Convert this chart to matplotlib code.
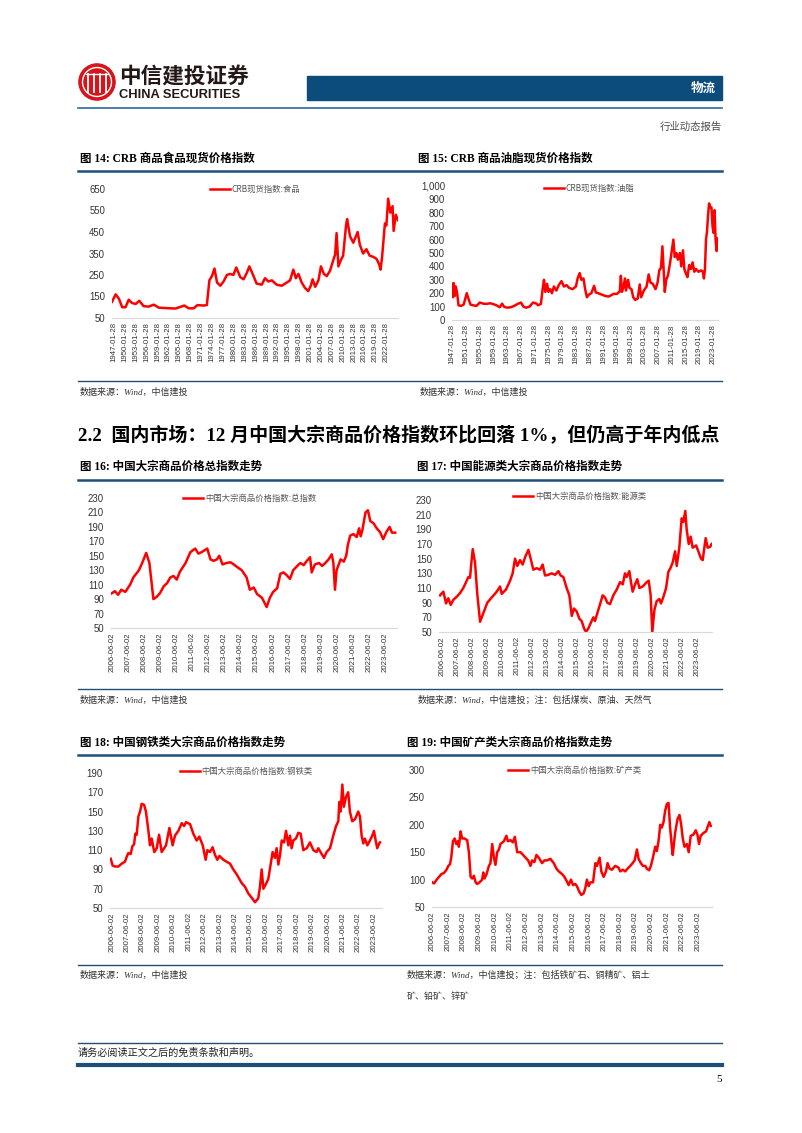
import matplotlib.pyplot as plt
from matplotlib.patches import Circle, Rectangle
from matplotlib.lines import Line2D
from matplotlib.ticker import FuncFormatter

W, H = 802, 1133
CJK = ['Noto Sans CJK SC', 'DejaVu Sans']
SERIF = ['Liberation Serif', 'Noto Sans CJK SC']
SANS = ['Liberation Sans', 'Noto Sans CJK SC']
RED = '#ff0000'
BLUE = '#1f4e79'

# ---- data ----
# CRB food spot index (years in axis position)
food_years = [1946.5, 1947.5, 1948.4, 1949.3, 1950.2, 1951.1, 1952.0, 1953.0, 1954.0, 1955.2,
              1956.6, 1958.0, 1959.4, 1961.6, 1964.0, 1966.4, 1967.6, 1969.0, 1970.0, 1971.7,
              1972.6, 1973.3, 1974.0, 1974.7, 1975.4, 1976.3, 1977.2, 1978.1, 1979.0, 1979.9,
              1980.7, 1981.8, 1982.7, 1983.6, 1984.3, 1985.2, 1986.3, 1987.7, 1988.6, 1989.5,
              1990.5, 1991.8, 1993.2, 1994.6, 1995.5, 1996.4, 1997.1, 1997.8, 1998.7, 1999.6,
              2000.5, 2001.2, 2001.7, 2002.4, 2003.3, 2004.0, 2004.8, 2005.6, 2006.5, 2007.4,
              2007.9, 2008.3, 2008.8, 2009.5, 2010.1, 2010.9, 2011.2, 2012.0, 2012.9, 2014.1,
              2014.7, 2015.6, 2016.5, 2017.4, 2018.3, 2019.3, 2020.0, 2020.4, 2020.8, 2021.6,
              2022.0, 2022.5, 2023.1, 2023.7, 2024.0, 2024.6, 2025.2]
food_vals = [125, 160, 140, 100, 100, 135, 120, 115, 130, 105,
             103, 112, 98, 96, 94, 108, 95, 95, 110, 108,
             110, 225, 245, 280, 215, 200, 220, 250, 255, 250,
             285, 240, 230, 260, 290, 255, 210, 205, 235, 220,
             225, 205, 200, 215, 225, 275, 235, 255, 215, 190,
             175, 200, 230, 195, 225, 290, 255, 245, 270, 320,
             345, 445, 290, 320, 340, 480, 510, 430, 400, 450,
             390, 350, 370, 340, 335, 325, 300, 275, 330, 490,
             480, 605, 540, 570, 455, 530, 505]

# CRB fats & oils spot index
oil_years = [1946.9, 1947.2, 1947.4, 1947.7, 1948.0, 1948.4, 1948.8, 1949.5, 1950.3, 1951.2,
             1951.8, 1952.3, 1953.0, 1954.0, 1955.0, 1956.0, 1957.0, 1958.0, 1959.0, 1960.0,
             1960.8, 1961.5, 1962.0, 1963.0, 1964.0, 1965.0, 1966.0, 1967.0, 1967.7, 1968.5,
             1969.5, 1970.5, 1971.3, 1972.0, 1972.8, 1973.3, 1973.7, 1974.1, 1974.6, 1975.0,
             1975.5, 1976.0, 1976.6, 1977.3, 1978.0, 1978.8, 1979.5, 1980.3, 1981.0, 1982.0,
             1983.0, 1983.5, 1984.1, 1984.6, 1985.2, 1985.7, 1986.2, 1986.8, 1987.5, 1988.3,
             1988.8, 1989.5, 1990.5, 1991.5, 1992.5, 1993.3, 1994.0, 1995.0, 1995.8, 1996.1,
             1996.4, 1996.8, 1997.3, 1997.6, 1998.2, 1998.6, 1999.2, 1999.7, 2000.3, 2001.0,
             2001.6, 2002.0, 2002.8, 2003.6, 2004.2, 2004.7, 2005.4, 2006.2, 2006.8, 2007.3,
             2007.8, 2008.2, 2008.6, 2008.9, 2009.3, 2009.8, 2010.4, 2011.0, 2011.4, 2011.8,
             2012.3, 2012.7, 2013.3, 2013.7, 2014.2, 2014.6, 2015.0, 2015.5, 2016.0, 2016.5,
             2017.0, 2017.5, 2018.0, 2018.7, 2019.5, 2020.0, 2020.3, 2020.6, 2020.9, 2021.2,
             2021.5, 2021.8, 2022.1, 2022.5, 2022.8, 2023.1, 2023.4, 2023.7, 2024.0, 2024.2,
             2024.4]
oil_vals = [270, 170, 275, 180, 250, 200, 110, 105, 115, 200,
            150, 115, 110, 105, 130, 122, 120, 125, 118, 108,
            95, 122, 100, 92, 95, 105, 120, 130, 100, 92,
            100, 130, 125, 110, 120, 230, 300, 210, 270, 210,
            230, 200, 250, 220, 260, 290, 250, 260, 240, 230,
            250, 310, 350, 300, 310, 230, 170, 190, 200, 255,
            205, 200, 190, 180, 175, 185, 195, 195, 215, 330,
            210, 240, 310, 220, 300, 240, 230, 170, 150, 160,
            265, 170, 220, 250, 340, 280, 270, 230, 280, 370,
            390, 550, 350, 210, 300, 330, 420, 530, 600, 470,
            500, 450, 500, 400, 520, 380, 350, 320, 410, 380,
            430, 360, 380, 360, 370, 360, 310, 380, 600, 660,
            780, 870, 840, 840, 700, 650, 820, 600, 515, 610,
            540]

# China commodity price index: total
tot_years = [2006.4, 2006.6, 2006.8, 2007.0, 2007.25, 2007.55, 2007.75, 2008.1, 2008.3, 2008.55,
             2008.75, 2009.0, 2009.2, 2009.4, 2009.65, 2009.85, 2010.05, 2010.25, 2010.45, 2010.65,
             2011.0, 2011.3, 2011.6, 2011.8, 2012.0, 2012.35, 2012.55, 2012.75, 2012.95, 2013.1,
             2013.3, 2013.55, 2013.8, 2014.0, 2014.3, 2014.5, 2014.8, 2015.0, 2015.25, 2015.45,
             2015.75, 2016.05, 2016.25, 2016.45, 2016.7, 2016.9, 2017.1, 2017.3, 2017.5, 2017.7,
             2018.0, 2018.15, 2018.35, 2018.55, 2018.75, 2018.85, 2019.05, 2019.3, 2019.5, 2019.7,
             2019.9, 2020.1, 2020.2, 2020.3, 2020.4, 2020.65, 2020.85, 2021.0, 2021.1, 2021.25,
             2021.45, 2021.65, 2021.8, 2021.9, 2022.0, 2022.2, 2022.35, 2022.5, 2022.7, 2022.9,
             2023.1, 2023.3, 2023.5, 2023.7, 2023.85, 2024.05]
tot_vals = [98, 101, 96, 103, 100, 110, 120, 130, 140, 154,
            140, 90, 93, 98, 108, 112, 120, 122, 117, 128,
            140, 155, 160, 153, 155, 160, 145, 143, 145, 150,
            138, 140, 141, 138, 133, 130, 120, 103, 106, 97,
            92, 79, 92, 100, 105, 125, 127, 123, 118, 130,
            137, 140, 137, 143, 148, 127, 138, 140, 136, 140,
            145, 152, 140, 103, 130, 145, 142, 150, 165, 178,
            180, 176, 188, 177, 185, 210, 213, 198, 195, 188,
            183, 173, 183, 190, 182, 182]

# energy
en_years = [2006.31, 2006.53, 2006.71, 2006.86, 2007.02, 2007.2, 2007.42, 2007.64, 2007.86, 2008.09,
            2008.2, 2008.31, 2008.4, 2008.49, 2008.64, 2008.8, 2008.98, 2009.2, 2009.46, 2009.75,
            2010.09, 2010.31, 2010.42, 2010.71, 2010.98, 2011.15, 2011.31, 2011.46, 2011.64, 2011.82,
            2011.98, 2012.2, 2012.35, 2012.53, 2012.75, 2012.98, 2013.15, 2013.31, 2013.53, 2013.75,
            2013.98, 2014.2, 2014.35, 2014.53, 2014.75, 2014.93, 2015.09, 2015.24, 2015.42, 2015.6,
            2015.75, 2015.91, 2016.04, 2016.2, 2016.35, 2016.53, 2016.64, 2016.86, 2016.98, 2017.15,
            2017.31, 2017.46, 2017.64, 2017.86, 2018.09, 2018.31, 2018.49, 2018.64, 2018.75, 2018.93,
            2019.04, 2019.15, 2019.31, 2019.46, 2019.6, 2019.82, 2020.04, 2020.22, 2020.35, 2020.46,
            2020.6, 2020.75, 2020.93, 2021.04, 2021.2, 2021.38, 2021.53, 2021.69, 2021.82, 2021.98,
            2022.09, 2022.26, 2022.42, 2022.53, 2022.66, 2022.75, 2022.89, 2023.02, 2023.15, 2023.38,
            2023.53, 2023.71, 2023.82, 2023.93, 2024.02, 2024.15, 2024.31, 2024.42]
en_vals = [100, 105, 89, 96, 87, 94, 98, 103, 110, 120,
           125, 124, 145, 163, 145, 100, 64, 76, 90, 97,
           105, 112, 102, 108, 120, 130, 150, 140, 148, 142,
           152, 162, 150, 135, 137, 135, 142, 127, 128, 130,
           128, 133, 127, 125, 110, 100, 72, 82, 78, 68,
           65, 55, 50, 55, 62, 70, 65, 80, 88, 100,
           97, 90, 88, 100, 108, 118, 115, 130, 125, 133,
           118, 105, 115, 122, 110, 112, 117, 120, 100, 50,
           80, 92, 95, 89, 98, 110, 132, 138, 145, 160,
           140, 165, 205, 200, 215, 190, 170, 180, 165, 168,
           160, 150, 148, 165, 178, 165, 166, 170]

# steel
st_years = [2006.36, 2006.48, 2006.64, 2006.85, 2007.07, 2007.28, 2007.39, 2007.5, 2007.65, 2007.76,
            2007.87, 2007.95, 2008.04, 2008.15, 2008.26, 2008.36, 2008.52, 2008.64, 2008.8, 2008.9,
            2009.01, 2009.18, 2009.34, 2009.49, 2009.66, 2009.94, 2010.16, 2010.37, 2010.52, 2010.74,
            2010.96, 2011.11, 2011.24, 2011.5, 2011.71, 2011.93, 2012.1, 2012.32, 2012.51, 2012.62,
            2012.79, 2012.96, 2013.12, 2013.27, 2013.4, 2013.66, 2013.87, 2014.09, 2014.3, 2014.52,
            2014.84, 2015.06, 2015.28, 2015.43, 2015.71, 2015.92, 2016.03, 2016.14, 2016.25, 2016.42,
            2016.57, 2016.72, 2016.85, 2017.0, 2017.11, 2017.22, 2017.33, 2017.44, 2017.59, 2017.72,
            2017.87, 2017.98, 2018.08, 2018.19, 2018.36, 2018.52, 2018.67, 2018.84, 2019.06, 2019.27,
            2019.49, 2019.7, 2019.81, 2020.03, 2020.18, 2020.35, 2020.57, 2020.67, 2020.78, 2020.96,
            2021.11, 2021.17, 2021.26, 2021.37, 2021.47, 2021.6, 2021.75, 2021.86, 2022.01, 2022.19,
            2022.4, 2022.51, 2022.62, 2022.73, 2022.83, 2022.99, 2023.16, 2023.31, 2023.42, 2023.53,
            2023.63, 2023.76, 2023.81]
st_vals = [101, 94, 93, 93, 96, 98, 103, 107, 106, 114,
           116, 127, 126, 145, 150, 158, 157, 150, 130, 115,
           122, 108, 112, 126, 108, 115, 133, 115, 125, 130,
           138, 135, 139, 137, 127, 120, 124, 115, 100, 110,
           108, 113, 105, 100, 104, 100, 98, 96, 90, 85,
           76, 72, 65, 62, 56, 60, 72, 90, 70, 75,
           80, 95, 108, 102, 112, 95, 105, 120, 118, 130,
           115, 125, 112, 120, 122, 128, 127, 110, 112, 118,
           110, 108, 112, 106, 102, 108, 112, 118, 125, 135,
           140, 160, 150, 178, 155, 165, 170, 150, 140, 142,
           150, 145, 125, 117, 122, 115, 120, 125, 130, 120,
           112, 117, 118]

# minerals
mn_years = [2006.42, 2006.53, 2006.7, 2006.85, 2007.0, 2007.16, 2007.33, 2007.44, 2007.55, 2007.63,
            2007.74, 2007.85, 2007.95, 2008.06, 2008.12, 2008.23, 2008.33, 2008.48, 2008.65, 2008.76,
            2008.87, 2008.97, 2009.08, 2009.19, 2009.29, 2009.44, 2009.61, 2009.68, 2009.76, 2009.89,
            2010.04, 2010.14, 2010.25, 2010.36, 2010.46, 2010.57, 2010.68, 2010.78, 2011.0, 2011.16,
            2011.25, 2011.42, 2011.57, 2011.7, 2011.85, 2012.06, 2012.23, 2012.38, 2012.55, 2012.7,
            2012.8, 2012.95, 2013.08, 2013.23, 2013.44, 2013.59, 2013.76, 2013.97, 2014.19, 2014.36,
            2014.51, 2014.72, 2014.87, 2015.04, 2015.14, 2015.29, 2015.42, 2015.57, 2015.67, 2015.82,
            2015.95, 2016.1, 2016.21, 2016.31, 2016.42, 2016.53, 2016.7, 2016.85, 2016.95, 2017.12,
            2017.23, 2017.38, 2017.53, 2017.63, 2017.76, 2017.91, 2018.12, 2018.33, 2018.44, 2018.61,
            2018.76, 2018.91, 2019.08, 2019.23, 2019.36, 2019.51, 2019.61, 2019.76, 2019.89, 2020.04,
            2020.14, 2020.29, 2020.4, 2020.53, 2020.68, 2020.78, 2020.89, 2021.0, 2021.1, 2021.21,
            2021.31, 2021.42, 2021.53, 2021.63, 2021.74, 2021.8, 2021.95, 2022.1, 2022.23, 2022.34,
            2022.44, 2022.55, 2022.7, 2022.82, 2022.95, 2023.12, 2023.27, 2023.38, 2023.48, 2023.59,
            2023.76, 2023.93, 2024.08, 2024.14, 2024.23]
mn_vals = [95, 93, 100, 105, 110, 112, 118, 125, 128, 140,
           170, 175, 165, 170, 160, 188, 175, 175, 172, 150,
           105, 102, 107, 95, 92, 95, 100, 113, 102, 110,
           125, 130, 165, 140, 127, 150, 155, 165, 170, 180,
           170, 172, 168, 178, 150, 150, 145, 140, 135, 125,
           135, 132, 145, 140, 130, 135, 135, 138, 130, 120,
           115, 110, 105, 96, 90, 100, 90, 92, 88, 78,
           72, 75, 85, 100, 88, 95, 95, 130, 125, 140,
           115, 105, 115, 130, 120, 118, 125, 122, 115, 118,
           115, 120, 125, 130, 135, 155, 138, 130, 125, 125,
           120, 117, 125, 140, 160, 152, 170, 200, 195, 205,
           225, 238, 240, 195, 160, 145, 185, 210, 218, 200,
           175, 160, 165, 150, 180, 182, 190, 182, 165, 180,
           185, 188, 200, 205, 198]

crb_food_ticks = list(range(1947, 2023, 3))
crb_oil_ticks = list(range(1947, 2024, 4))
cn_ticks = list(range(2006, 2024))

fig = plt.figure(figsize=(W / 100, H / 100), dpi=100)
fig.patch.set_facecolor('white')


def fx(x):
    return x / W


def fy(y):
    return 1 - y / H


def hline(y, x0=78, x1=722, lw=1.0, color=BLUE):
    fig.add_artist(Line2D([fx(x0), fx(x1)], [fy(y), fy(y)], lw=lw, color=color))


def txt(x, y, s, **kw):
    kw.setdefault('va', 'center')
    fig.text(fx(x), fy(y), s, **kw)


def chart(box, xs, ys, xlim, ylim, ystep, ticks, fmt, label, leg_xy, comma=False):
    l, t, r, b = box
    ax = fig.add_axes([fx(l), fy(b), (r - l) / W, (b - t) / H])
    ax.plot(xs, ys, color=RED, lw=1.8, label=label)
    ax.set_xlim(*xlim)
    ax.set_ylim(*ylim)
    ax.set_yticks(range(ylim[0], ylim[1] + 1, ystep))
    if comma:
        ax.yaxis.set_major_formatter(FuncFormatter(lambda v, p: f'{int(v):,}'))
    ax.set_xticks([t0 + fmt[1] for t0 in ticks])
    ax.set_xticklabels([fmt[0].format(t0) for t0 in ticks], rotation=90)
    ax.tick_params(length=0, labelsize=5.6, colors='#333333')
    ax.tick_params(axis='y', pad=5, labelsize=6.9)
    ax.tick_params(axis='x', pad=3)
    for lab in ax.get_xticklabels() + ax.get_yticklabels():
        lab.set_family(SANS)
    for s in ['top', 'right', 'left']:
        ax.spines[s].set_visible(False)
    ax.spines['bottom'].set_color('#d9d9d9')
    ax.spines['bottom'].set_linewidth(0.8)
    ax.patch.set_alpha(0)
    leg = ax.legend(loc='center', bbox_to_anchor=leg_xy, frameon=False,
                    handlelength=2.4, handletextpad=0.2,
                    prop={'family': CJK, 'size': 6})
    for t_ in leg.get_texts():
        t_.set_color('#555555')
    return ax


# ---- header ----
logo = fig.add_axes([fx(78), fy(101), 38 / W, 38 / H])
logo.set_xlim(-1.05, 1.05)
logo.set_ylim(-1.05, 1.05)
logo.set_aspect('equal')
logo.axis('off')
logo.add_patch(Circle((0, 0), 1, color='#d7141a'))
logo.add_patch(Circle((0, 0), 0.8, fill=False, ec='white', lw=1.0))
for xv in [-0.5, -0.18, 0.18, 0.5]:
    logo.plot([xv, xv], [-0.55, 0.45], color='white', lw=1.3)
logo.plot([-0.6, 0.6], [0.45, 0.45], color='white', lw=1.0)

txt(119, 76, '中信建投证券', fontsize=15.6, fontweight='bold', family=CJK, color='#231815')
txt(119, 95, 'CHINA SECURITIES', fontsize=9.3, fontweight='bold', family=SANS, color='#231815')

fig.add_artist(Rectangle((fx(307), fy(100)), (722 - 307) / W, 24 / H, color='#0c4c7d'))
txt(716, 88, '物流', fontsize=9, fontweight='bold', family=CJK, color='white', ha='right')
hline(108, lw=1.2, color='#2c6a9a')
txt(722, 127, '行业动态报告', fontsize=7.5, family=CJK, color='#4d4d4d', ha='right')

# ---- row 1: CRB ----
txt(80, 159, '图 14: CRB 商品食品现货价格指数', fontsize=8.3, fontweight='bold', family=SERIF)
txt(418, 159, '图 15: CRB 商品油脂现货价格指数', fontsize=8.3, fontweight='bold', family=SERIF)
hline(171, lw=1.8)
chart((112, 189, 398, 318), food_years, food_vals, (1946.5, 2025.2), (50, 650), 100,
      crb_food_ticks, ('{}-01-28', 0.0), 'CRB现货指数:食品', (0.5, 1.0))
chart((452, 186, 718, 320), oil_years, oil_vals, (1946.9, 2024.4), (0, 1000), 100,
      crb_oil_ticks, ('{}-01-28', 0.0), 'CRB现货指数:油脂', (0.515, 0.985), comma=True)
hline(381, lw=1.0)
txt(80, 392, '数据来源：Wind，中信建投', fontsize=6.5, family=SERIF, style='italic', color='#333333')
txt(420, 392, '数据来源：Wind，中信建投', fontsize=6.5, family=SERIF, style='italic', color='#333333')

txt(78, 436, '2.2  国内市场：12 月中国大宗商品价格指数环比回落 1%，但仍高于年内低点',
    fontsize=13.7, fontweight='bold', family=SERIF)

# ---- row 2 ----
txt(80, 467, '图 16: 中国大宗商品价格总指数走势', fontsize=8.3, fontweight='bold', family=SERIF)
txt(417, 467, '图 17: 中国能源类大宗商品价格指数走势', fontsize=8.3, fontweight='bold', family=SERIF)
hline(480, lw=1.8)
chart((111, 498, 397, 628), tot_years, tot_vals, (2006.36, 2024.16), (50, 230), 20,
      cn_ticks, ('{}-06-02', 0.42), '中国大宗商品价格指数:总指数', (0.485, 1.0))
chart((439, 500, 712, 632), en_years, en_vals, (2006.24, 2024.44), (50, 230), 20,
      cn_ticks, ('{}-06-02', 0.42), '中国大宗商品价格指数:能源类', (0.515, 1.03))
hline(689, lw=1.0)
txt(80, 700, '数据来源：Wind，中信建投', fontsize=6.5, family=SERIF, style='italic', color='#333333')
txt(418, 700, '数据来源：Wind，中信建投；注：包括煤炭、原油、天然气', fontsize=6.5, family=SERIF,
    style='italic', color='#333333')

# ---- row 3 ----
txt(80, 743, '图 18: 中国钢铁类大宗商品价格指数走势', fontsize=8.3, fontweight='bold', family=SERIF)
txt(407, 743, '图 19: 中国矿产类大宗商品价格指数走势', fontsize=8.3, fontweight='bold', family=SERIF)
hline(755, lw=1.8)
chart((110, 773, 382, 908), st_years, st_vals, (2006.31, 2023.94), (50, 190), 20,
      cn_ticks, ('{}-06-02', 0.42), '中国大宗商品价格指数:钢铁类', (0.5, 1.01))
chart((432, 770, 712, 907), mn_years, mn_vals, (2006.4, 2024.31), (50, 300), 50,
      cn_ticks, ('{}-06-02', 0.42), '中国大宗商品价格指数:矿产类', (0.51, 1.0))
hline(965, lw=1.0)
txt(80, 975, '数据来源：Wind，中信建投', fontsize=6.5, family=SERIF, style='italic', color='#333333')
txt(407, 975, '数据来源：Wind，中信建投；注：包括铁矿石、铜精矿、铝土', fontsize=6.5, family=SERIF,
    style='italic', color='#333333')
txt(407, 997, '矿、铅矿、锌矿', fontsize=6.5, family=SERIF, style='italic', color='#333333')

# ---- footer ----
hline(1043, lw=1.0)
txt(78, 1053, '请务必阅读正文之后的免责条款和声明。', fontsize=7.3, family=CJK, color='#222222')
hline(1065, lw=3.0, color='#1f4e79')
txt(722, 1080, '5', fontsize=8, family=SERIF, ha='right')

fig.savefig('out.png', dpi=100, facecolor='white')
